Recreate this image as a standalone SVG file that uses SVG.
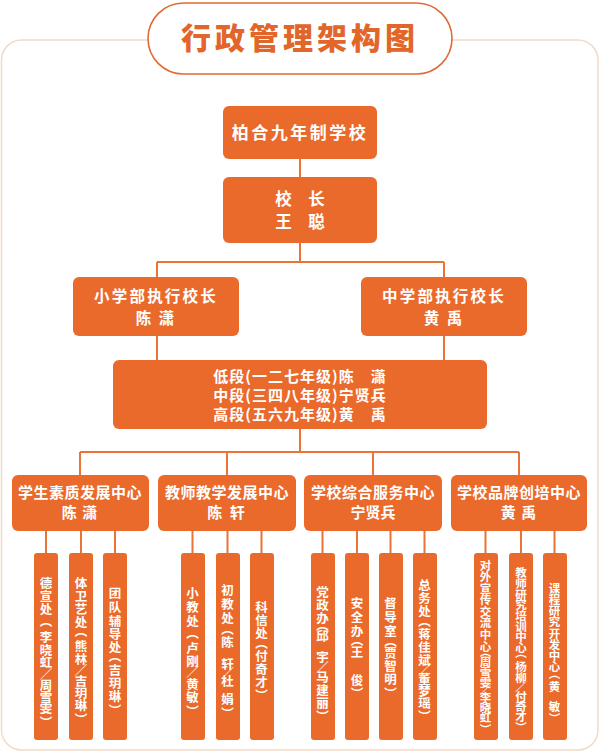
<svg xmlns="http://www.w3.org/2000/svg" width="600" height="755" viewBox="0 0 600 755">
<style>
.box{fill:#EA6A2C;}
.t{font-family:"Noto Sans CJK SC","Noto Sans",sans-serif;font-weight:700;fill:#fff;text-anchor:middle;}
.v{font-family:"Noto Sans CJK SC","Noto Sans",sans-serif;font-weight:700;fill:#fff;text-anchor:middle;font-size:12.5px;writing-mode:vertical-rl;dominant-baseline:central;}
.vs{font-size:11.5px;}
.ln{stroke:#EA7338;stroke-width:2;fill:none;}
</style>
<rect width="600" height="755" fill="#ffffff"/>
<rect x="1.5" y="40" width="596.5" height="710" rx="20" fill="#ffffff" stroke="#F3DAC6" stroke-width="1.5"/>
<g id="title">
<rect x="148" y="3" width="304" height="71" rx="35.5" fill="#ffffff" stroke="#E06A33" stroke-width="1.6"/>
<text x="300" y="49" text-anchor="middle" font-family="'Noto Sans CJK SC',sans-serif" font-weight="900" font-size="30" letter-spacing="4" fill="#E2662A">行政管理架构图</text>
</g>
<g id="connectors">
<path class="ln" d="M300 159V177M300 243V262M157 262H444M157 262V277M444 262V277M157 336V360M444 336V360M300 429V452M80 452H519M80 452V475M227 452V475M373 452V475M519 452V475"/>
<path class="ln" d="M46 531V553M81 531V553M115 531V553M192.5 531V553M227.5 531V553M261.5 531V553M322.5 531V553M357 531V553M390.5 531V553M424.5 531V553M485.5 531V553M521 531V553M554.5 531V553"/>
</g>
<g id="n-school"><rect class="box" x="223" y="106" width="154" height="53" rx="6"/><text class="t" x="300" y="139" font-size="17" letter-spacing="2.5">柏合九年制学校</text></g>
<g id="n-principal"><rect class="box" x="223" y="177" width="154" height="66" rx="6"/><text class="t" x="300" y="205" font-size="16.5">校　长</text><text class="t" x="300" y="228" font-size="16.5">王　聪</text></g>
<g id="n-primary"><rect class="box" x="73" y="277" width="166" height="59" rx="6"/><text class="t" x="156" y="302" font-size="15.5" letter-spacing="2.2">小学部执行校长</text><text class="t" x="156" y="324" font-size="15.5" letter-spacing="2">陈 潇</text></g>
<g id="n-middle"><rect class="box" x="361" y="277" width="166" height="59" rx="6"/><text class="t" x="444" y="302" font-size="15.5" letter-spacing="2.2">中学部执行校长</text><text class="t" x="444" y="324" font-size="15.5" letter-spacing="2">黄 禹</text></g>
<g id="n-grades"><rect class="box" x="113" y="360" width="374" height="69" rx="6"/>
<text class="t" x="300" y="382" font-size="15" letter-spacing="1">低段(一二七年级)陈　潇</text>
<text class="t" x="300" y="401" font-size="15" letter-spacing="1">中段(三四八年级)宁贤兵</text>
<text class="t" x="300" y="420" font-size="15" letter-spacing="1">高段(五六九年级)黄　禹</text></g>
<g id="c1"><rect class="box" x="12" y="475" width="137" height="56" rx="6"/><text class="t" x="80" y="498" font-size="15" letter-spacing="0.5">学生素质发展中心</text><text class="t" x="80" y="518" font-size="15" letter-spacing="1">陈 潇</text></g>
<g id="c2"><rect class="box" x="158" y="475" width="138" height="56" rx="6"/><text class="t" x="227" y="498" font-size="15" letter-spacing="0.5">教师教学发展中心</text><text class="t" x="227" y="518" font-size="15" letter-spacing="2">陈 轩</text></g>
<g id="c3"><rect class="box" x="304" y="475" width="138" height="56" rx="6"/><text class="t" x="373" y="498" font-size="15" letter-spacing="0.5">学校综合服务中心</text><text class="t" x="373" y="518" font-size="15">宁贤兵</text></g>
<g id="c4"><rect class="box" x="451" y="475" width="136" height="56" rx="6"/><text class="t" x="519" y="498" font-size="15" letter-spacing="0.5">学校品牌创培中心</text><text class="t" x="519" y="518" font-size="15" letter-spacing="1">黄 禹</text></g>
<g id="d1"><rect class="box" x="34" y="553" width="24" height="187" rx="3"/><text class="v" x="46" y="583 596 609 621 637 650 662 674 685 697 708 722">德宣处（李晓虹／周雪雯）</text></g>
<g id="d2"><rect class="box" x="69" y="553" width="24" height="187" rx="3"/><text class="v" x="81" y="583 596 609 622 631 646 659 670 681 693 705 719">体卫艺处（熊林／吉玥琳）</text></g>
<g id="d3"><rect class="box" x="103" y="553" width="24" height="187" rx="3"/><text class="v" x="115" y="593 607 621 634 647 656 670 683 696 710">团队辅导处（吉玥琳）</text></g>
<g id="d4"><rect class="box" x="181" y="553" width="24" height="187" rx="3"/><text class="v" x="192.5" y="593 607 621 633 648 661 672 684 697 711">小教处（卢刚／黄敏）</text></g>
<g id="d5"><rect class="box" x="216" y="553" width="24" height="187" rx="3"/><text class="v" x="227.5" y="590 604 618 629 642 653 664 673 681 690 699 713">初教处（陈　轩／杜　娟）</text></g>
<g id="d6"><rect class="box" x="250" y="553" width="24" height="187" rx="3"/><text class="v" x="261.5" y="607 620 633 643 656 669 682 695">科信处（付奇才）</text></g>
<g id="d7"><rect class="box" x="311" y="553" width="24" height="187" rx="3"/><text class="v" x="322.5" y="592 605 618 625 636 646 657 667 677 690 703 716">党政办（邱　宇／马建丽）</text></g>
<g id="d8"><rect class="box" x="345" y="553" width="24" height="187" rx="3"/><text class="v" x="357" y="603 617 631 640 652 666 680 693">安全办（王　俊）</text></g>
<g id="d9"><rect class="box" x="379" y="553" width="24" height="187" rx="3"/><text class="v" x="390.5" y="603 617 631 641 653 666 679 693">督导室（贾智明）</text></g>
<g id="d10"><rect class="box" x="413" y="553" width="24" height="187" rx="3"/><text class="v" x="424.5" y="585 598 611 621 634 647 660 670 679 691 703 716">总务处（蒋佳斌／董梦瑶）</text></g>
<g id="d11"><rect class="box" x="474" y="553" width="24" height="187" rx="3"/><text class="v vs" x="485.5" y="566 577 589 600 612 623 635 647 652 662 673 683 690 698 708 718 730">对外宣传交流中心（周雪雯／李晓虹）</text></g>
<g id="d12"><rect class="box" x="509" y="553" width="24" height="187" rx="3"/><text class="v vs" x="521" y="573 584 595 605 616 627 637 648 653 667 678 687 697 707 717 728">教师研究培训中心（杨柳／付奇才）</text></g>
<g id="d13"><rect class="box" x="543" y="553" width="24" height="187" rx="3"/><text class="v vs" x="554.5" y="589 600 611 622 634 645 656 667 674 687 697 707 719">课程研究开发中心（黄　敏）</text></g>
</svg>
